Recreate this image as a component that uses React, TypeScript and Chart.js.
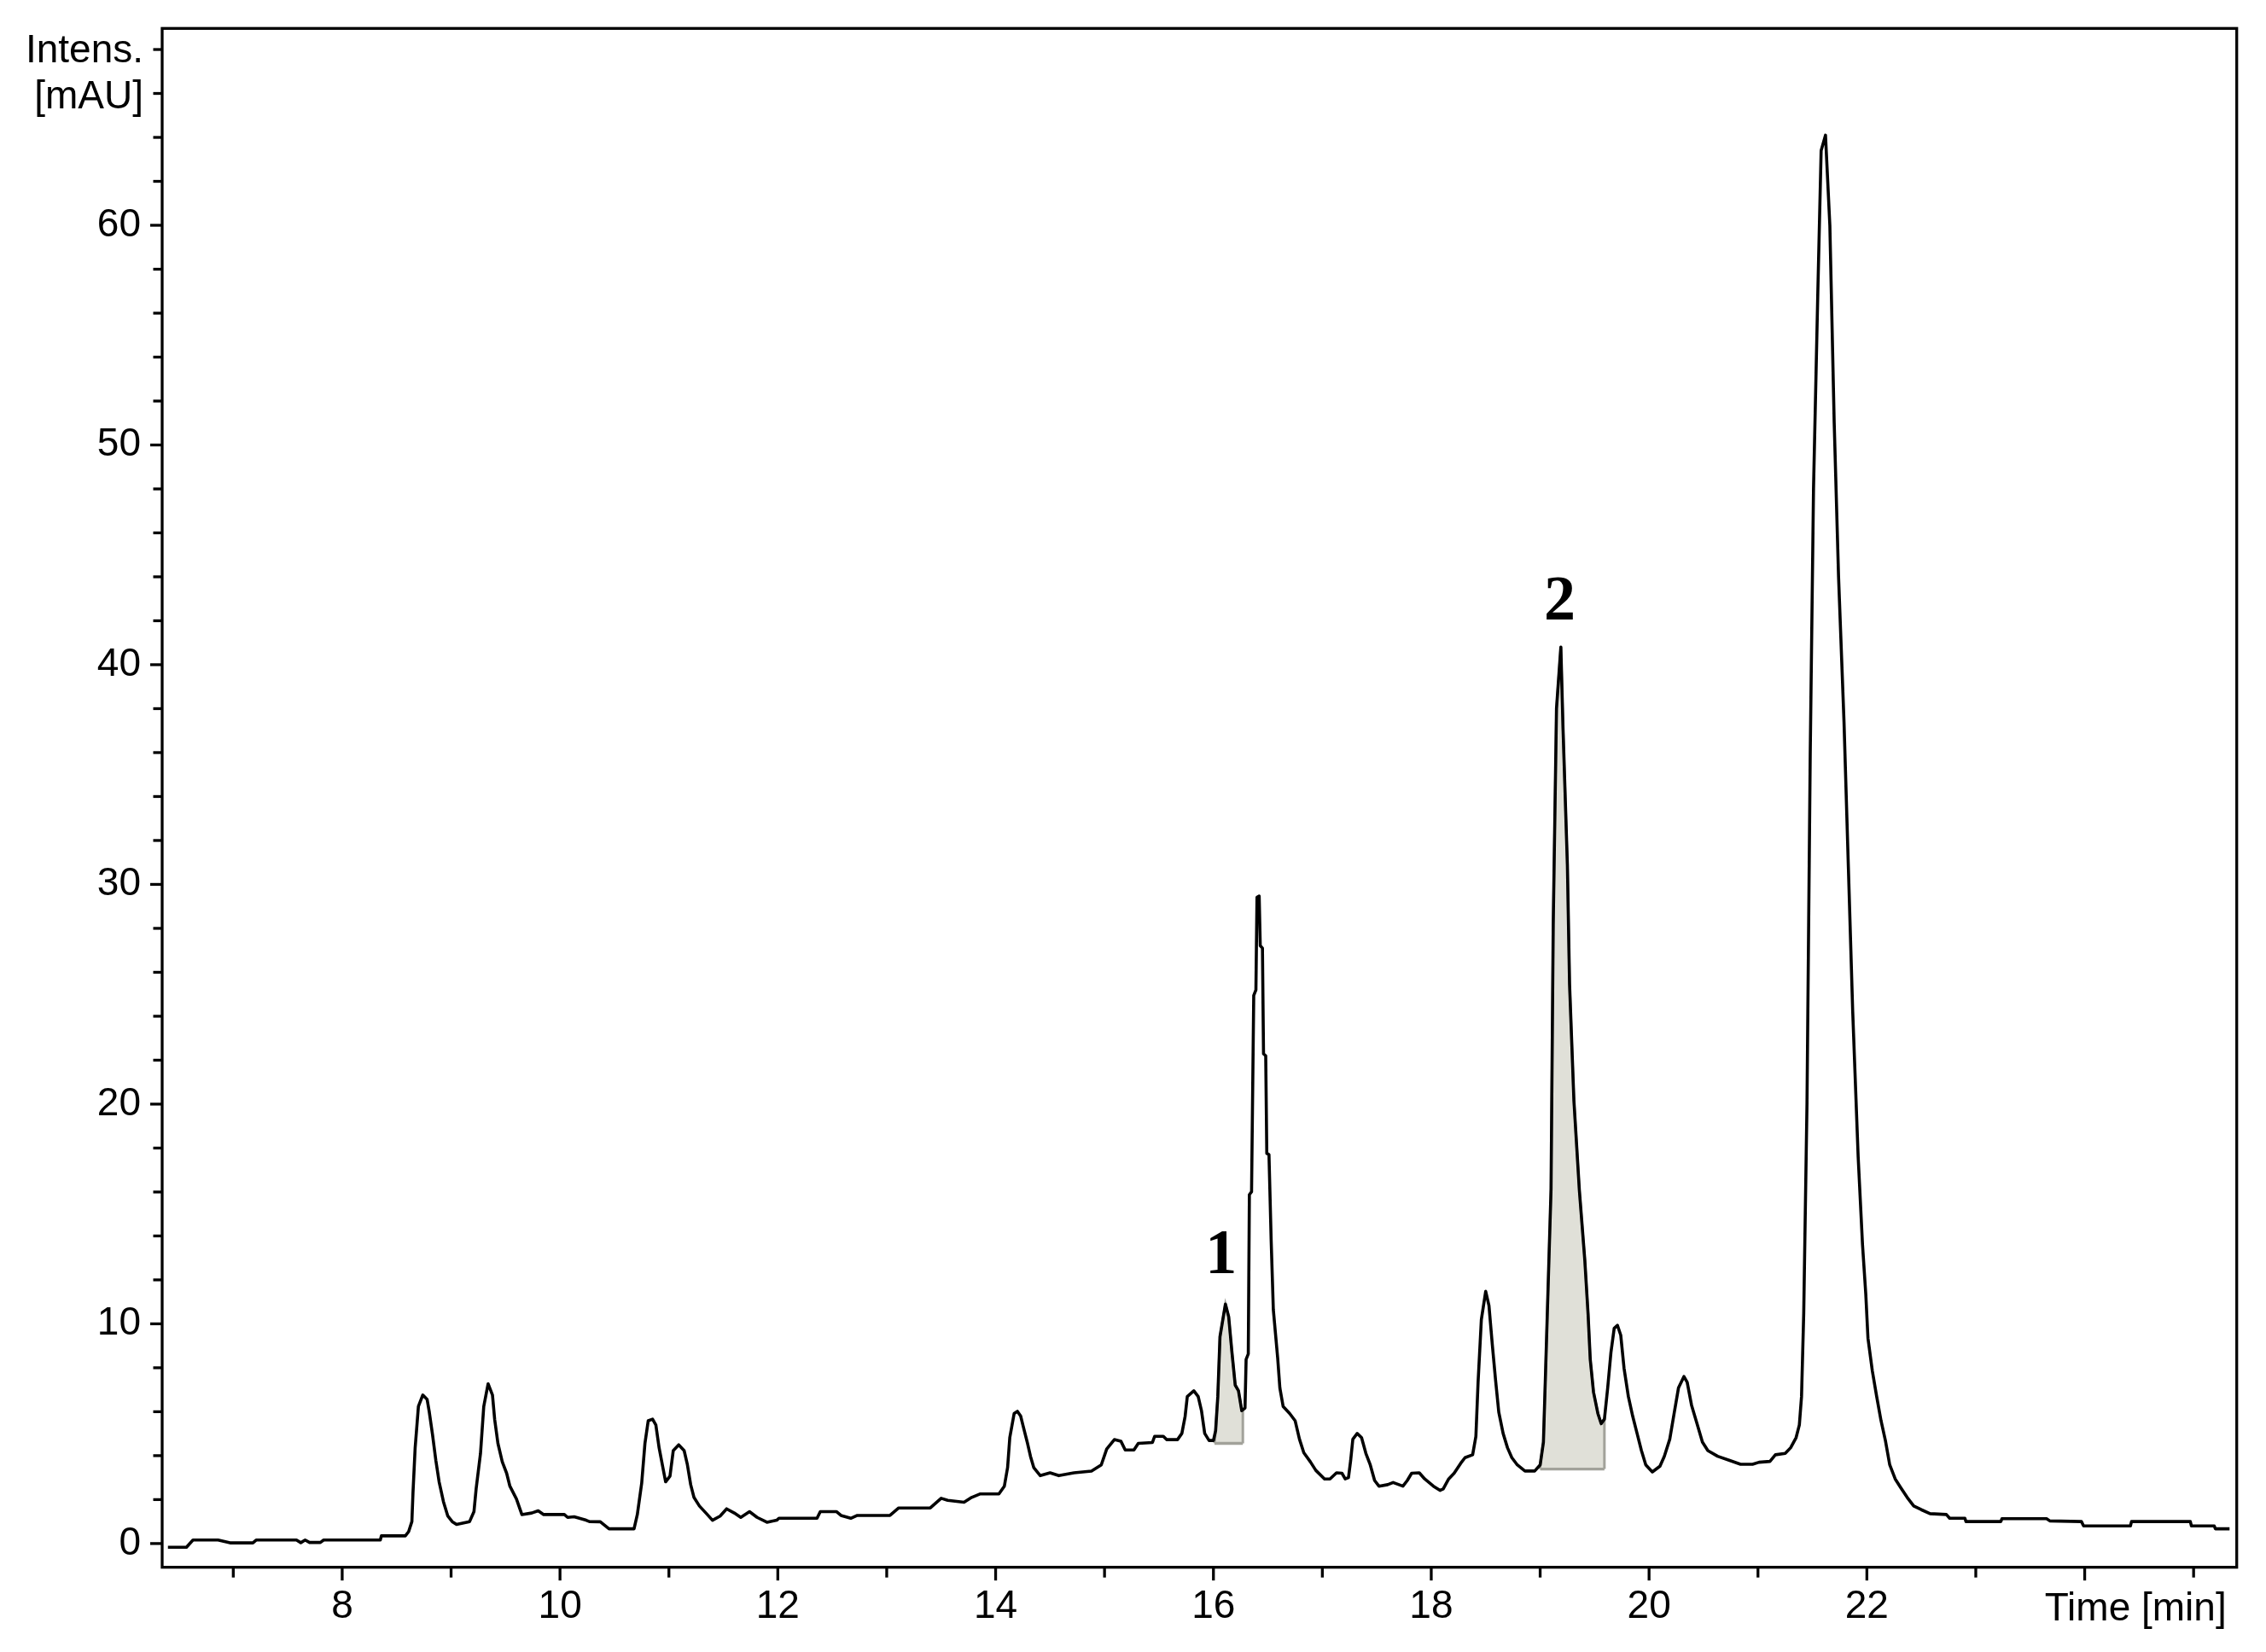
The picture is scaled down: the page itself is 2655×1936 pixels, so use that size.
import React, { useEffect, useRef } from 'react';
import { Chart, registerables } from 'chart.js';

Chart.register(...registerables);

// Retention time [min]
const TIME_MIN = [
  6.40, 6.57, 6.63, 6.86, 6.97, 7.18, 7.21, 7.58, 7.62, 7.66, 7.70, 7.80, 7.83, 8.35, 8.36, 8.58,
  8.61, 8.64, 8.65, 8.67, 8.70, 8.74, 8.78, 8.80, 8.83, 8.86, 8.89, 8.93, 8.97, 9.01, 9.05, 9.17,
  9.21, 9.23, 9.27, 9.30, 9.34, 9.38, 9.40, 9.43, 9.47, 9.51, 9.54, 9.60, 9.65, 9.74, 9.80, 9.85,
  10.04, 10.07, 10.13, 10.24, 10.27, 10.37, 10.45, 10.68, 10.71, 10.75, 10.78, 10.81, 10.85, 10.88,
  10.91, 10.94, 10.97, 11.01, 11.04, 11.09, 11.14, 11.17, 11.20, 11.23, 11.28, 11.34, 11.40, 11.47,
  11.53, 11.60, 11.66, 11.74, 11.81, 11.90, 11.99, 12.01, 12.36, 12.39, 12.54, 12.58, 12.67, 12.73,
  13.03, 13.11, 13.40, 13.50, 13.56, 13.71, 13.78, 13.86, 14.03, 14.08, 14.11, 14.13, 14.17, 14.20,
  14.23, 14.25, 14.29, 14.32, 14.35, 14.41, 14.50, 14.58, 14.72, 14.88, 14.97, 15.02, 15.09, 15.15,
  15.19, 15.27, 15.31, 15.44, 15.46, 15.54, 15.57, 15.67, 15.71, 15.74, 15.76, 15.82, 15.86, 15.89,
  15.92, 15.96, 16.00, 16.02, 16.04, 16.06, 16.11, 16.14, 16.17, 16.20, 16.23, 16.26, 16.29, 16.30,
  16.32, 16.33, 16.35, 16.37, 16.39, 16.40, 16.42, 16.43, 16.45, 16.46, 16.48, 16.49, 16.51, 16.53,
  16.55, 16.59, 16.61, 16.64, 16.70, 16.75, 16.79, 16.83, 16.89, 16.94, 17.02, 17.07, 17.13, 17.18,
  17.21, 17.24, 17.26, 17.28, 17.32, 17.36, 17.40, 17.44, 17.48, 17.52, 17.60, 17.65, 17.74, 17.78,
  17.82, 17.89, 17.94, 18.02, 18.08, 18.11, 18.16, 18.21, 18.27, 18.31, 18.38, 18.41, 18.43, 18.46,
  18.50, 18.53, 18.56, 18.59, 18.62, 18.66, 18.70, 18.74, 18.79, 18.86, 18.95, 19.00, 19.03, 19.05,
  19.10, 19.12, 19.15, 19.19, 19.21, 19.25, 19.27, 19.31, 19.36, 19.41, 19.44, 19.46, 19.49, 19.53,
  19.56, 19.59, 19.62, 19.65, 19.68, 19.71, 19.74, 19.77, 19.81, 19.85, 19.89, 19.93, 19.97, 20.03,
  20.10, 20.14, 20.19, 20.23, 20.27, 20.32, 20.35, 20.39, 20.44, 20.49, 20.54, 20.63, 20.74, 20.84,
  20.95, 21.01, 21.11, 21.16, 21.25, 21.30, 21.35, 21.38, 21.40, 21.42, 21.45, 21.48, 21.51, 21.55,
  21.58, 21.62, 21.66, 21.70, 21.74, 21.79, 21.83, 21.87, 21.92, 21.96, 21.99, 22.01, 22.05, 22.09,
  22.13, 22.17, 22.21, 22.26, 22.31, 22.37, 22.43, 22.50, 22.58, 22.73, 22.76, 22.90, 22.91, 23.23,
  23.24, 23.65, 23.68, 23.97, 23.99, 24.42, 24.43, 24.97, 24.98, 25.19, 25.20, 25.33,
];

// Intensity [mAU]
const INTENSITY_MAU = [
  -0.17, -0.17, 0.16, 0.16, 0.03, 0.03, 0.16, 0.16, 0.04, 0.16, 0.05, 0.05, 0.16, 0.16, 0.35, 0.35,
  0.54, 1.00, 2.29, 4.36, 6.24, 6.76, 6.56, 5.98, 4.94, 3.78, 2.81, 1.90, 1.25, 1.00, 0.87, 1.00,
  1.45, 2.49, 4.10, 6.24, 7.27, 6.76, 5.66, 4.56, 3.72, 3.20, 2.61, 2.03, 1.32, 1.39, 1.49, 1.32,
  1.32, 1.19, 1.22, 1.06, 1.00, 0.99, 0.67, 0.67, 1.32, 2.74, 4.56, 5.59, 5.66, 5.40,
  4.36, 3.58, 2.81, 3.07, 4.23, 4.49, 4.23, 3.58, 2.68, 2.10, 1.71, 1.39, 1.06, 1.25,
  1.58, 1.39, 1.19, 1.45, 1.19, 0.97, 1.06, 1.15, 1.15, 1.45, 1.45, 1.28, 1.15, 1.28,
  1.28, 1.62, 1.62, 2.06, 1.97, 1.88, 2.10, 2.26, 2.26, 2.61, 3.46, 4.82, 5.92, 6.02,
  5.80, 5.40, 4.62, 3.97, 3.46, 3.09, 3.22, 3.09, 3.22, 3.30, 3.58, 4.30, 4.73, 4.66,
  4.26, 4.26, 4.56, 4.60, 4.88, 4.88, 4.73, 4.73, 5.01, 5.79, 6.69, 6.95, 6.69, 6.05,
  5.01, 4.69, 4.69, 5.14, 6.69, 9.41, 10.90, 10.32, 8.70, 7.21, 6.95, 6.05, 6.17, 8.38,
  8.63, 15.88, 16.01, 24.94, 25.20, 29.41, 29.47, 27.21, 27.10, 22.29, 22.20, 17.76, 17.70, 13.81,
  10.64, 8.44, 7.08, 6.24, 5.92, 5.59, 4.75, 4.13, 3.72, 3.33, 2.94, 2.94, 3.22, 3.20,
  2.94, 3.00, 3.78, 4.75, 5.01, 4.82, 4.10, 3.58, 2.87, 2.61, 2.68, 2.78, 2.61, 2.87,
  3.20, 3.22, 2.94, 2.61, 2.42, 2.49, 2.94, 3.20, 3.65, 3.91, 4.04, 4.88, 7.34, 10.19,
  11.48, 10.83, 9.09, 7.47, 5.98, 5.01, 4.36, 3.91, 3.58, 3.30, 3.30, 3.58, 4.62, 7.86,
  16.14, 28.18, 38.00, 40.80, 37.10, 30.90, 25.46, 20.16, 16.08, 12.90, 10.45, 8.38, 6.89, 5.92,
  5.46, 5.66, 7.08, 8.70, 9.80, 9.93, 9.48, 7.99, 6.69, 5.79, 5.01, 4.23, 3.58, 3.26,
  3.52, 3.97, 4.75, 5.92, 7.08, 7.60, 7.34, 6.30, 5.46, 4.62, 4.23, 3.97, 3.78, 3.61,
  3.61, 3.70, 3.74, 4.04, 4.10, 4.36, 4.82, 5.40, 6.69, 10.45, 20.00, 36.00, 48.00, 57.05,
  63.40, 64.10, 60.00, 51.00, 44.00, 37.40, 30.80, 24.20, 17.60, 13.60, 11.35, 9.35, 7.86, 6.69,
  5.59, 4.69, 3.58, 2.94, 2.55, 2.10, 1.71, 1.54, 1.36, 1.32, 1.15, 1.15, 1.00, 1.00,
  1.13, 1.13, 1.03, 1.00, 0.80, 0.80, 1.00, 1.00, 0.80, 0.80, 0.67, 0.67,
];

const X_MIN = 6.347;
const X_MAX = 25.396;
const Y_MIN = -1.08;
const Y_MAX = 68.96;

const X_TICK_VALUES = [7, 8, 9, 10, 11, 12, 13, 14, 15, 16, 17, 18, 19, 20, 21, 22, 23, 24, 25];
const X_TICK_LABELS = ['8', '10', '12', '14', '16', '18', '20', '22'];
const Y_TICK_VALUES = [
  0, 2, 4, 6, 8, 10, 12, 14, 16, 18, 20, 22, 24, 26, 28, 30, 32, 34,
  36, 38, 40, 42, 44, 46, 48, 50, 52, 54, 56, 58, 60, 62, 64, 66, 68,
];
const Y_TICK_LABELS = ['0', '10', '20', '30', '40', '50', '60'];

// Integrated peak areas (start, end, baseline)
const AREA_START = [16.01, 19.0];
const AREA_END = [16.27, 19.59];
const AREA_BASE = [4.56, 3.39];

// Peak annotations
const PEAK_LABELS = ['1', '2'];
const PEAK_LABEL_T = [16.07, 19.18];
const PEAK_LABEL_V = [12.3, 42.05];

const SANS = "'Liberation Sans', Arial, sans-serif";
const SERIF = "'Liberation Serif', 'Times New Roman', serif";
const FILL_COLOR = '#e0e0d8';
const FILL_EDGE = '#a2a29a';

function areaPoints(i: number) {
  const start = AREA_START[i];
  const end = AREA_END[i];
  const base = AREA_BASE[i];
  const pts: { x: number; y: number }[] = [{ x: start, y: base }];
  let last = base;
  TIME_MIN.forEach((t, k) => {
    if (t >= start && t <= end) {
      pts.push({ x: t, y: INTENSITY_MAU[k] });
      last = INTENSITY_MAU[k];
    }
  });
  pts.push({ x: end, y: last });
  pts.push({ x: end, y: base });
  return pts;
}

const decorPlugin = {
  id: 'decor',
  afterDraw(chart: any) {
    const ctx = chart.ctx as CanvasRenderingContext2D;
    const area = chart.chartArea;
    const xs = chart.scales.x;
    const ys = chart.scales.y;
    ctx.save();
    ctx.strokeStyle = '#000';
    ctx.lineWidth = 3.3;
    ctx.lineCap = 'butt';
    // frame
    ctx.strokeRect(area.left, area.top, area.right - area.left, area.bottom - area.top);
    // y ticks
    Y_TICK_VALUES.forEach((v) => {
      const y = ys.getPixelForValue(v);
      const len = v % 10 === 0 ? 14 : 10.5;
      ctx.beginPath();
      ctx.moveTo(area.left - len, y);
      ctx.lineTo(area.left, y);
      ctx.stroke();
    });
    // x ticks
    X_TICK_VALUES.forEach((v) => {
      const x = xs.getPixelForValue(v);
      const len = v % 2 === 0 ? 15.5 : 12;
      ctx.beginPath();
      ctx.moveTo(x, area.bottom);
      ctx.lineTo(x, area.bottom + len);
      ctx.stroke();
    });
    // axis titles
    ctx.fillStyle = '#000';
    ctx.font = `46px ${SANS}`;
    ctx.textAlign = 'right';
    ctx.textBaseline = 'alphabetic';
    ctx.fillText('Intens.', 168, 73);
    ctx.fillText('[mAU]', 168, 127);
    ctx.fillText('Time [min]', area.right - 12, 1899);
    // peak labels
    ctx.font = `bold 74px ${SERIF}`;
    ctx.textAlign = 'center';
    PEAK_LABELS.forEach((txt, i) => {
      ctx.fillText(txt, xs.getPixelForValue(PEAK_LABEL_T[i]), ys.getPixelForValue(PEAK_LABEL_V[i]));
    });
    ctx.restore();
  },
};

export default function App() {
  const ref = useRef<HTMLCanvasElement | null>(null);

  useEffect(() => {
    document.body.style.margin = '0';
    document.body.style.overflow = 'hidden';
    const canvas = ref.current;
    if (!canvas) return;

    const mainPoints = TIME_MIN.map((t, i) => ({ x: t, y: INTENSITY_MAU[i] }));
    const areaSets: any[] = [];
    AREA_START.forEach((s, i) => {
      areaSets.push({
        data: [
          { x: s, y: AREA_BASE[i] },
          { x: AREA_END[i], y: AREA_BASE[i] },
        ],
        borderColor: FILL_EDGE,
        borderWidth: 3.3,
        pointRadius: 0,
        fill: false,
      });
      areaSets.push({
        data: areaPoints(i),
        borderColor: FILL_EDGE,
        borderWidth: 3,
        backgroundColor: FILL_COLOR,
        pointRadius: 0,
        fill: { value: AREA_BASE[i] },
      });
    });

    const tickFont = { family: SANS, size: 46 };

    const chart = new Chart(canvas, {
      type: 'line',
      data: {
        datasets: [
          {
            data: mainPoints,
            borderColor: '#000',
            borderWidth: 3.6,
            pointRadius: 0,
            tension: 0,
            fill: false,
            borderJoinStyle: 'round',
          },
          ...areaSets,
        ],
      },
      options: {
        animation: false,
        responsive: false,
        devicePixelRatio: 1,
        events: [],
        layout: { padding: { left: 0, top: 33.3, right: 34.3, bottom: 0 } },
        plugins: {
          legend: { display: false },
          tooltip: { enabled: false },
        },
        scales: {
          x: {
            type: 'linear',
            min: X_MIN,
            max: X_MAX,
            afterFit: (s: any) => {
              s.height = 99.3;
              s.paddingLeft = 0;
              s.paddingRight = 0;
            },
            afterBuildTicks: (s: any) => {
              s.ticks = X_TICK_VALUES.map((v) => ({ value: v }));
            },
            grid: { display: false, drawTicks: false },
            border: { display: false },
            ticks: {
              autoSkip: false,
              maxRotation: 0,
              minRotation: 0,
              padding: 19,
              color: '#000',
              font: tickFont,
              callback: (v: any) => (X_TICK_LABELS.includes(String(v)) ? String(v) : ''),
            },
          },
          y: {
            type: 'linear',
            min: Y_MIN,
            max: Y_MAX,
            afterFit: (s: any) => {
              s.width = 190;
              s.paddingTop = 0;
              s.paddingBottom = 0;
            },
            afterBuildTicks: (s: any) => {
              s.ticks = Y_TICK_VALUES.map((v) => ({ value: v }));
            },
            grid: { display: false, drawTicks: false },
            border: { display: false },
            ticks: {
              autoSkip: false,
              padding: 25,
              color: '#000',
              font: tickFont,
              callback: (v: any) => (Y_TICK_LABELS.includes(String(v)) ? String(v) : ''),
            },
          },
        },
      },
      plugins: [decorPlugin],
    } as any);

    return () => {
      chart.destroy();
    };
  }, []);

  return (
    <canvas
      ref={ref}
      width={2655}
      height={1936}
      style={{ display: 'block', position: 'absolute', left: 0, top: 0, width: 2655, height: 1936 }}
    />
  );
}
